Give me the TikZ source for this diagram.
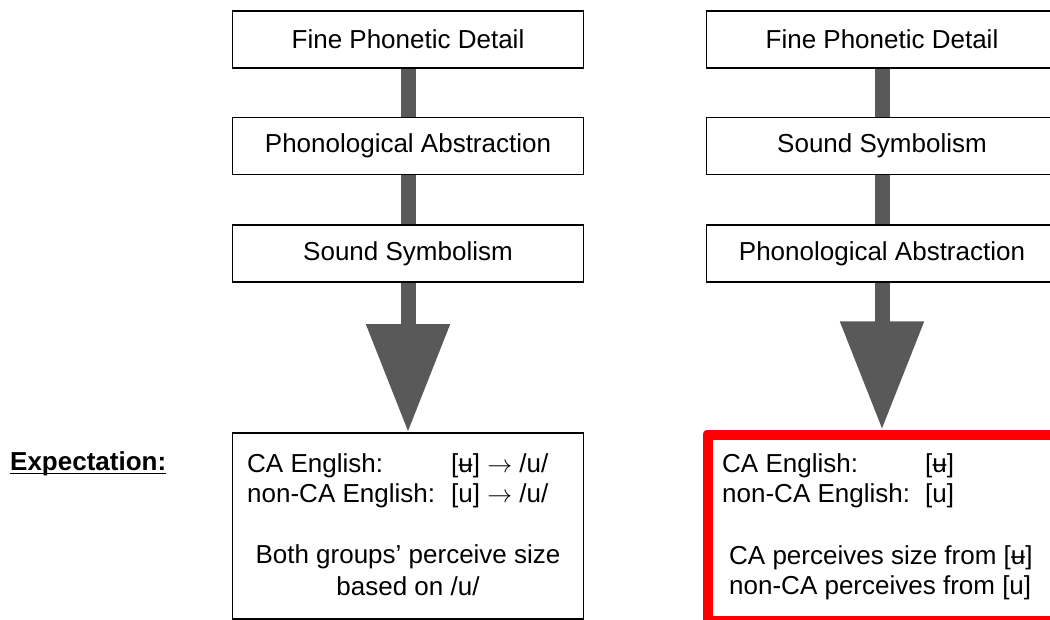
\documentclass[tikz,border=0pt]{standalone}
\usepackage{fontspec}
\setmainfont{Liberation Sans}
\usepackage{tikz}
\usetikzlibrary{positioning,arrows.meta}
\definecolor{shaftgray}{HTML}{595959}
\definecolor{alertred}{HTML}{FF0000}

\tikzset{
    stage/.style={draw=black, line width=1.6pt, fill=white, minimum width=351pt,
        minimum height=57pt, inner sep=0pt, font=\fontsize{26}{30}\selectfont},
    shaft/.style={draw=shaftgray, line width=15pt},
    bigshaft/.style={shaft, -{Triangle[width=80pt,length=108pt]}},
    outcome/.style={draw=black, line width=1.6pt, minimum width=351pt,
        minimum height=186pt, inner sep=0pt},
    txt/.style={inner sep=0pt, anchor=base west, font=\fontsize{26}{30}\selectfont},
}

\begin{document}
\begin{tikzpicture}[x=1pt,y=-1pt]
    \useasboundingbox (0,0) rectangle (1050,620);
    \clip (0,0) rectangle (1050,620);
    % col 1
    \node[stage] (fpdA) at (408,39.5) {Fine Phonetic Detail};
    \node[stage] (phA) at (408,146) {Phonological Abstraction};
    \node[stage] (ssA) at (408,253.5) {Sound Symbolism};
    \node[outcome] (expA) at (408,526) {};
    \draw[shaft] (fpdA) -- (phA);
    \draw[shaft] (phA) -- (ssA);
    \draw[bigshaft] (ssA.south) -- (expA.north);
    % col 2
    \node[stage] (fpdB) at (882,39.5) {Fine Phonetic Detail};
    \node[stage] (ssB) at (882,146) {Sound Symbolism};
    \node[stage] (phB) at (882,253.5) {Phonological Abstraction};
    \node[outcome, draw=alertred, line width=10pt, line join=round,
        minimum width=349pt, minimum height=186pt] (expB) at (882,527.5) {};
    \draw[shaft] (fpdB) -- (ssB);
    \draw[shaft] (ssB) -- (phB);
    \draw[bigshaft] (phB.south) -- (expB.north);
    % label
    \node[txt, font=\fontsize{26}{30}\selectfont\bfseries] (lbl) at (10,470) {Expectation:};
    \draw[line width=1.8pt] ([yshift=-3.5pt]lbl.base west) -- ([yshift=-3.5pt]lbl.base east);
    % text col 1
    \node[txt] (caA) at (247,472) {CA English:};
    \node[txt] (caAv) at (451,472) {[ʉ] $\rightarrow$ /u/};
    \node[txt] (ncA) at (247,502) {non-CA English:};
    \node[txt] (ncAv) at (451,502) {[u] $\rightarrow$ /u/};
    \node[txt, anchor=base] (bothA) at (408,563) {Both groups’ perceive size};
    \node[txt, anchor=base] (basedA) at (408,595) {based on /u/};
    % text col 2
    \node[txt] (caB) at (722,472) {CA English:};
    \node[txt] (caBv) at (925,472) {[ʉ]};
    \node[txt] (ncB) at (722,502) {non-CA English:};
    \node[txt] (ncBv) at (925,502) {[u]};
    \node[txt] (percB) at (729,564) {CA perceives size from [ʉ]};
    \node[txt] (nonpercB) at (729,594) {non-CA perceives from [u]};
\end{tikzpicture}
\end{document}
